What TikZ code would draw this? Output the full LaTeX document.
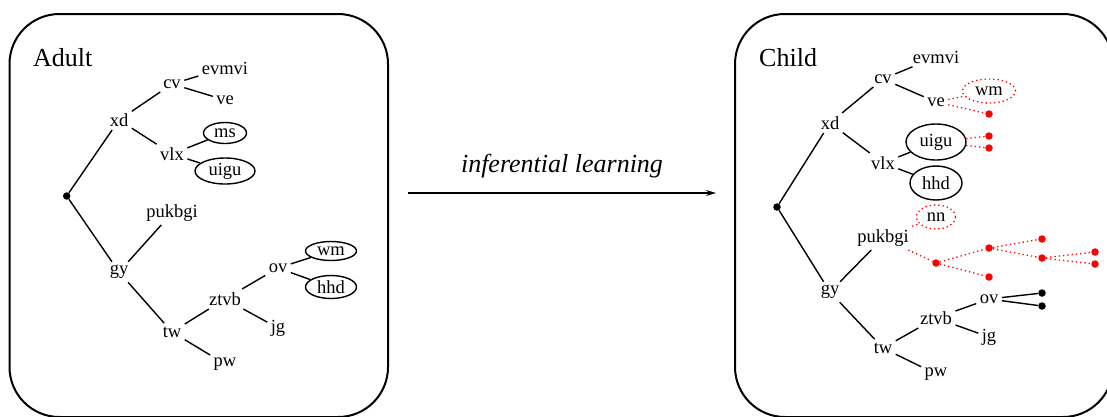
\documentclass[tikz,border=0pt]{standalone}
\usepackage{fontspec}
\setmainfont{Liberation Serif}
\usepackage{tikz}
\usetikzlibrary{arrows.meta}
\usetikzlibrary{shapes.geometric}

\tikzset{
  lbl/.style={font=\fontsize{18.5}{20}\selectfont},
  leaf/.style={lbl, draw, ellipse, inner sep=0pt, line width=1.4pt},
  guess/.style={lbl, draw=red, ellipse, inner sep=0pt, line width=1.3pt, dash pattern=on 1.3pt off 3pt},
  knot/.style={circle, fill=black, inner sep=0pt, minimum size=7.5pt},
  redknot/.style={knot, fill=red},
  branch/.style={line width=1.4pt},
  guessline/.style={red, line width=1.3pt, dash pattern=on 1.3pt off 3pt},
  panel/.style={draw, line width=2pt, rounded corners=50pt},
  heading/.style={font=\fontsize{26}{30}\selectfont, anchor=west, inner sep=0pt}
}

\begin{document}
\begin{tikzpicture}[x=1pt,y=-1pt]
    \useasboundingbox (0,0) rectangle (1107,416);
    \clip (0,0) rectangle (1107,416);
    \draw[panel] (9.5,14) rectangle (388,417);
    \draw[panel] (735,14) rectangle (1113,417);

    % adult tree
    \node[heading] (adult) at (33,58) {Adult};
    \node[knot] (rootA) at (66.7,196) {};
    \node[lbl] (xdA) at (119,120) {xd};
    \node[lbl] (gyA) at (119,272) {gy};
    \node[lbl] (cvA) at (172,84) {cv};
    \node[lbl] (vlxA) at (172,154) {vlx};
    \node[lbl] (evmviA) at (225,68) {evmvi};
    \node[lbl] (veA) at (225,100) {ve};
    \node[leaf, minimum width=43pt, minimum height=21pt] (msA) at (225,133) {ms};
    \node[leaf, minimum width=60pt, minimum height=26pt] (uiguA) at (225,171) {uigu};
    \node[lbl] (pukbgiA) at (172,213) {pukbgi};
    \node[lbl] (twA) at (172,332) {tw};
    \node[lbl] (ztvbA) at (225,299) {ztvb};
    \node[lbl] (pwA) at (225,364) {pw};
    \node[lbl] (ovA) at (278,268) {ov};
    \node[lbl] (jgA) at (278,328) {jg};
    \node[leaf, minimum width=51pt, minimum height=19pt] (wmA) at (331,251) {wm};
    \node[leaf, minimum width=51pt, minimum height=23pt] (hhdA) at (331,287) {hhd};
    \path [branch] (rootA) edge (xdA) edge (gyA);
    \path [branch] (xdA) edge (cvA) edge (vlxA);
    \path [branch] (cvA) edge (evmviA) edge (veA);
    \path [branch] (vlxA) edge (msA) edge (uiguA);
    \path [branch] (gyA) edge (pukbgiA) edge (twA);
    \path [branch] (twA) edge (ztvbA) edge (pwA);
    \path [branch] (ztvbA) edge (ovA) edge (jgA);
    \path [branch] (ovA) edge (wmA) edge (hhdA);

    % arrow
    \coordinate (from) at (408,193);
    \coordinate (to) at (716,193);
    \node[font=\fontsize{26}{30}\selectfont\itshape] (learn) at (562,166) {inferential learning};
    \draw[line width=1.4pt, -{Stealth[length=10pt,width=6pt]}] (from) -- (to);

    % child tree
    \node[heading] (child) at (759,58) {Child};
    \node[knot] (rootC) at (777,207) {};
    \node[lbl] (xdC) at (830,123) {xd};
    \node[lbl] (gyC) at (830,292) {gy};
    \node[lbl] (cvC) at (883,79) {cv};
    \node[lbl] (vlxC) at (883,163) {vlx};
    \node[lbl] (evmviC) at (936,57) {evmvi};
    \node[lbl] (veC) at (936,102) {ve};
    \node[guess, minimum width=53pt, minimum height=24pt] (wmC) at (989,91) {wm};
    \node[redknot] (d1) at (989,114) {};
    \node[leaf, minimum width=60pt, minimum height=36pt] (uiguC) at (936,142) {uigu};
    \node[redknot] (d2) at (989,136) {};
    \node[redknot] (d3) at (989,148) {};
    \node[leaf, minimum width=52pt, minimum height=34pt] (hhdC) at (936,183) {hhd};
    \node[guess, minimum width=39pt, minimum height=24pt] (nnC) at (936,217) {nn};
    \node[lbl] (pukbgiC) at (883,238) {pukbgi};
    \node[redknot] (d4) at (936,263) {};
    \node[redknot] (d5) at (989,248) {};
    \node[redknot] (d6) at (989,277) {};
    \node[redknot] (d7) at (1042,239) {};
    \node[redknot] (d8) at (1042,258) {};
    \node[redknot] (d9) at (1095,252) {};
    \node[redknot] (d10) at (1095,264) {};
    \node[lbl] (twC) at (883,348) {tw};
    \node[lbl] (ztvbC) at (936,318) {ztvb};
    \node[lbl] (pwC) at (936,374) {pw};
    \node[lbl] (ovC) at (989,299) {ov};
    \node[lbl] (jgC) at (989,337) {jg};
    \node[knot] (k1) at (1042,293) {};
    \node[knot] (k2) at (1042,306) {};
    \path [branch] (rootC) edge (xdC) edge (gyC);
    \path [branch] (xdC) edge (cvC) edge (vlxC);
    \path [branch] (cvC) edge (evmviC) edge (veC);
    \path [guessline] (veC) edge (wmC) edge (d1);
    \path [branch] (vlxC) edge (uiguC) edge (hhdC);
    \path [guessline] (uiguC) edge (d2) edge (d3);
    \path [branch] (gyC) edge (pukbgiC) edge (twC);
    \path [guessline] (pukbgiC) edge (nnC) edge (d4);
    \path [guessline] (d4) edge (d5) edge (d6);
    \path [guessline] (d5) edge (d7) edge (d8);
    \path [guessline] (d8) edge (d9) edge (d10);
    \path [branch] (twC) edge (ztvbC) edge (pwC);
    \path [branch] (ztvbC) edge (ovC) edge (jgC);
    \path [branch] (ovC) edge (k1) edge (k2);
  \end{tikzpicture}
\end{document}
